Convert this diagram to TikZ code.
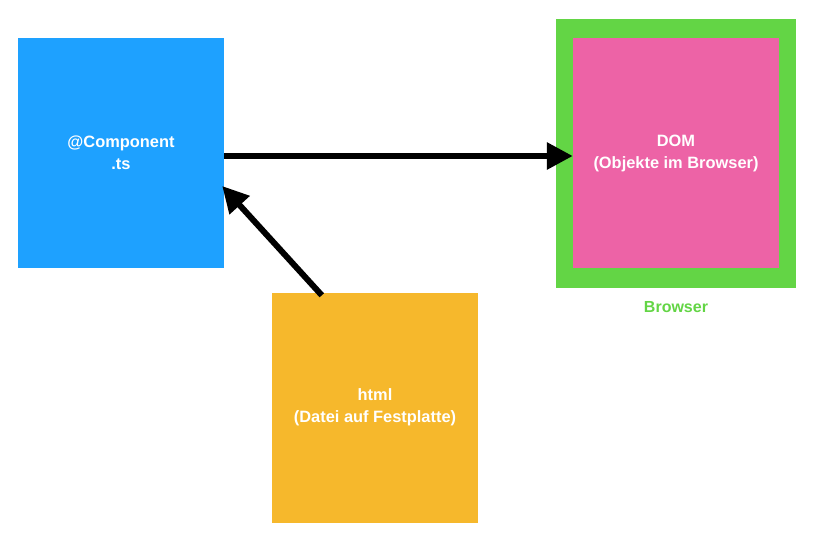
\documentclass[tikz,border=0pt]{standalone}
\usepackage{fontspec}
\setmainfont{Liberation Sans}
\usetikzlibrary{arrows.meta}
\definecolor{cblue}{HTML}{1EA1FF}
\definecolor{cpink}{HTML}{ED63A6}
\definecolor{cgreen}{HTML}{63D545}
\definecolor{corange}{HTML}{F6B82C}
\tikzset{
  box/.style={draw=none, minimum width=206pt, minimum height=230pt, inner sep=0pt,
    text=white, font=\bfseries\fontsize{16.4}{22}\selectfont, align=center},
  conn/.style={line width=6pt, -{Triangle[length=26pt,width=26pt]}, black}
}
\begin{document}
\begin{tikzpicture}[x=1pt,y=-1pt]
\useasboundingbox (0,0) rectangle (820,538);
\node[fill=cgreen, minimum width=240pt, minimum height=269pt, inner sep=0pt] (browser) at (676,153.5) {};
\node[box, fill=cpink] (dom) at (676,153) {DOM\\(Objekte im Browser)};
\node[box, fill=cblue] (comp) at (121,153) {@Component\\.ts};
\node[box, fill=corange] (html) at (375,407.5) {html\\(Datei auf Festplatte)};
\node[text=cgreen, font=\bfseries\fontsize{16}{18}\selectfont] (blabel) at (676,307) {Browser};
\draw[conn] ([yshift=-3pt]comp.east) -- ([yshift=-3pt]dom.west);
\coordinate (hstart) at ([xshift=50pt,yshift=-3pt]html.north west);
\coordinate (ctip) at ([xshift=-2pt,yshift=-33pt]comp.east);
\draw[conn] (hstart) -- (ctip);
\end{tikzpicture}
\end{document}
